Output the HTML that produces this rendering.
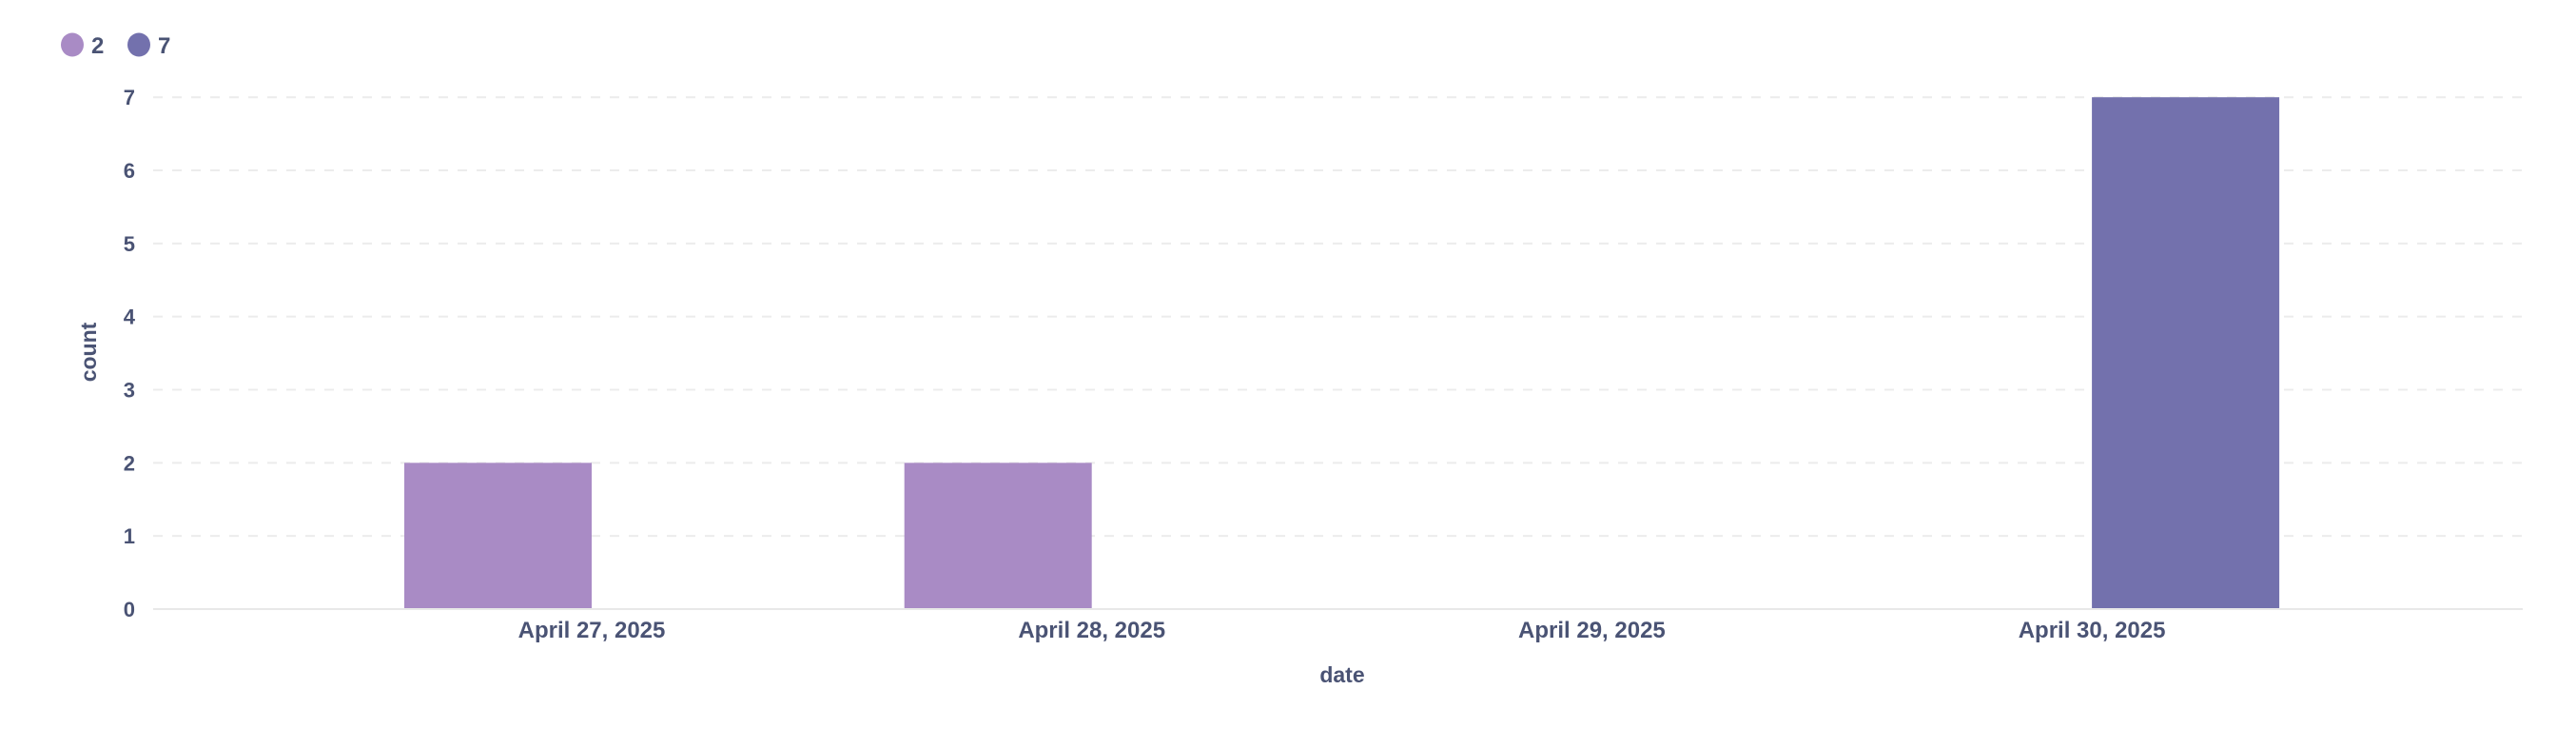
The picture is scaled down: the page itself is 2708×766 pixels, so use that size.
<!DOCTYPE html>
<html><head><meta charset="utf-8"><style>
html,body{margin:0;padding:0;background:#fff;}
svg{display:block;font-family:"Liberation Sans",Arial,sans-serif;font-weight:bold;}
</style></head><body>
<svg id="chart" width="2708" height="766" viewBox="0 0 2708 766">
<g id="legend">
  <g>
    <ellipse cx="76" cy="47" rx="12" ry="12.5" fill="#A98BC5"/>
    <text x="96" y="56" font-size="24" fill="#4A5374">2</text>
  </g>
  <g>
    <ellipse cx="146" cy="47" rx="12" ry="12.5" fill="#7371AD"/>
    <text x="166" y="56" font-size="24" fill="#4A5374">7</text>
  </g>
</g>
<g id="grid"></g>
<g id="yticks"></g>
<g id="bars"></g>
<line x1="161" y1="640" x2="2652" y2="640" stroke="#e8e8e8" stroke-width="2"/>
<g id="xticks"></g>
<text x="1411" y="717" font-size="23" fill="#4A5374" text-anchor="middle">date</text>
<text transform="translate(101,370) rotate(-90)" font-size="23" fill="#4A5374" text-anchor="middle">count</text>
</svg>
<script>
const categories = ["April 27, 2025","April 28, 2025","April 29, 2025","April 30, 2025"];
const series2 = [2, 2, 0, 0];
const series7 = [0, 0, 0, 7];
const yTicks = [0,1,2,3,4,5,6,7];

const NS = "http://www.w3.org/2000/svg";
const x0 = 622, band = 525.7, barW = 197;
const yBase = 640, yTop = 102.2, yMax = 7;
function xCenter(i){ return x0 + i*band; }
function yScale(v){ return yBase - (v/yMax)*(yBase-yTop); }
function mk(tag, attrs, parent){ const e=document.createElementNS(NS,tag); for(const k in attrs) e.setAttribute(k,attrs[k]); parent.appendChild(e); return e; }

const grid=document.getElementById('grid'), yt=document.getElementById('yticks');
yTicks.forEach(v=>{
  if(v>0){
    const l=mk('line',{x1:161,x2:2652,y1:yScale(v),y2:yScale(v),stroke:'#ececec','stroke-width':2,'stroke-dasharray':'10 10'},grid);
    
    
  }
  const t=mk('text',{x:142,y:yScale(v)+8,'font-size':22,fill:'#4A5374','text-anchor':'end'},yt);
  t.textContent=v;
  
  
});
const bars=document.getElementById('bars');
categories.forEach((c,i)=>{
  if(series2[i]>0){
    const r=mk('rect',{x:xCenter(i)-barW,y:yScale(series2[i]),width:barW,height:yBase-yScale(series2[i]),fill:'#A98BC5'},bars);
    
    
  }
  if(series7[i]>0){
    const r=mk('rect',{x:xCenter(i),y:yScale(series7[i]),width:barW,height:yBase-yScale(series7[i]),fill:'#7371AD'},bars);
    
    
  }
});
const xt=document.getElementById('xticks');
categories.forEach((c,i)=>{
  const t=mk('text',{x:xCenter(i),y:670,'font-size':24,fill:'#4A5374','text-anchor':'middle'},xt);
  t.textContent=c;
  
  
});
</script>
</body></html>
